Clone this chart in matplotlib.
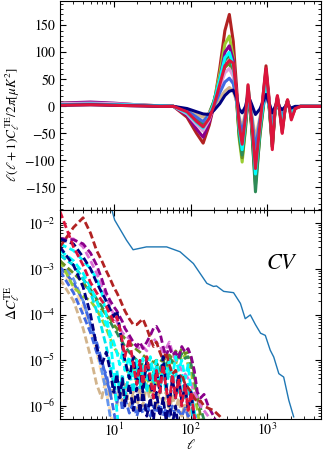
import numpy as np
import matplotlib
matplotlib.use("Agg")
import matplotlib.pyplot as plt
from matplotlib.ticker import AutoMinorLocator, LogLocator, NullFormatter

plt.rcParams["font.family"] = "STIXGeneral"
plt.rcParams["mathtext.fontset"] = "stix"

# ---- top panel: l(l+1)C_l^TE/2pi for the different models ----
te_ell = [2, 5, 10, 20, 40, 60, 90, 120, 146, 175, 200, 240, 280, 320, 360, 400, 430,
          470, 520, 560, 620, 700, 800, 960, 1060, 1160, 1250, 1350, 1450, 1560, 1700,
          1830, 1950, 2050, 2300, 2700, 5000]

te_firebrick = [4, 5, 4, 2, 1, 0, -20, -50, -68, -35, 0, 70, 140, 170, 120, 30, -40, -80, -30, 25,
                -30, -120, -40, 75, 10, -75, -15, 18, -10, -48, -5, 12, -5, -22, -4, 0, 0]
te_yellowgreen = [6, 7, 5, 3, 1, 0, -12, -32, -45, -22, 5, 60, 115, 130, 90, 10, -60, -103, -40, 38,
                  -20, -140, -50, 50, 0, -70, -10, 15, -8, -40, -4, 10, -4, -18, -3, 0, 0]
te_purple = [6, 8, 6, 3, 1, 0, -16, -42, -57, -30, 0, 50, 100, 112, 85, 20, -45, -85, -30, 30,
             -25, -135, -40, 65, 5, -65, -10, 15, -8, -40, -4, 10, -4, -18, -3, 0, 0]
te_olive = [4, 5, 4, 2, 1, 0, -9, -22, -30, -12, 8, 45, 72, 80, 60, 5, -55, -95, -40, 30,
            -35, -145, -55, 40, -5, -70, -12, 12, -8, -38, -4, 8, -3, -15, -2, 0, 0]
te_seagreen = [4, 5, 4, 2, 1, 0, -10, -26, -35, -15, 8, 50, 85, 95, 70, 10, -50, -90, -35, 30,
               -30, -158, -50, 40, -5, -75, -12, 12, -8, -40, -4, 8, -3, -15, -2, 0, 0]
te_plum = [5, 6, 5, 3, 1, 0, -14, -34, -45, -25, 0, 35, 62, 70, 55, 10, -30, -60, -20, 30,
           -20, -100, -35, 55, 5, -50, -8, 12, -6, -30, -3, 8, -3, -12, -2, 0, 0]
te_tan = [3, 4, 3, 2, 1, 0, -6, -15, -20, -12, 0, 15, 28, 35, 28, 8, -20, -40, -10, 25,
          -10, -60, -20, 30, 0, -30, -5, 8, -4, -15, -2, 5, -2, -8, -1, 0, 0]
te_royalblue = [3, 4, 3, 2, 1, 0, -8, -20, -28, -15, 0, 25, 45, 52, 42, 8, -25, -50, -15, 20,
                -15, -80, -25, 25, 0, -40, -6, 10, -5, -20, -2, 5, -2, -10, -1, 0, 0]
te_cyan = [3, 4, 3, 2, 1, 0, -12, -30, -40, -20, 5, 50, 90, 100, 75, 15, -40, -80, -25, 35,
           -15, -125, -40, 45, 0, -60, -10, 12, -6, -35, -3, 8, -3, -15, -2, 0, 0]
te_navy = [2, 3, 2, 1, 0, 0, -4, -10, -14, -15, -8, 5, 20, 28, 30, 15, -5, -12, 0, 20,
           5, -15, -5, 22, 5, -12, -2, 8, -2, -6, -1, 4, -1, -3, 0, 0, 0]
te_crimson = [2, 3, 2, 1, 0, 0, -10, -28, -38, -22, 0, 40, 75, 85, 80, 20, -35, -70, -20, 40,
              -20, -115, -35, 70, 5, -80, -10, 20, -10, -50, -5, 12, -5, -25, -4, 0, 0]

# ---- bottom panel: Delta C_l^TE per model (each list runs along dc_ell until it leaves the axes) ----
dc_ell = [2, 3, 4, 5, 6, 7, 8, 9, 10, 11, 12, 13, 14, 16, 18, 20, 22, 24, 27, 30, 33, 36, 40,
          44, 48, 53, 58, 64, 70, 77, 85, 93, 102, 112, 123, 135, 150, 170, 200, 240, 290]

dc_tan = [6e-4, 2e-4, 5e-5, 1.2e-5, 3e-6, 1.5e-6, 4e-6, 1.5e-6, 3e-6, 1e-6, 2.5e-6, 1.2e-6, 3e-6,
          1e-6, 2e-6, 8e-7, 2.5e-6, 1e-6, 3e-6, 1.2e-6, 2e-6, 8e-7, 2.5e-6, 1e-6, 2e-6, 7e-7,
          1.8e-6, 8e-7, 1.5e-6, 6e-7, 1.2e-6, 5e-7, 1e-6, 4e-7, 2e-7]
dc_navajo = [1e-3, 4e-4, 1.5e-4, 5e-5, 1.5e-5, 5e-6, 2e-6, 8e-7, 3e-7]
dc_cornflower = [1.5e-3, 6e-4, 2e-4, 6e-5, 2e-5, 6e-6, 2e-6, 6e-7, 2e-7]
dc_royalblue = [1.1e-3, 5e-4, 2e-4, 6e-5, 2.5e-5, 1e-5, 4e-6, 2e-6, 8e-7, 3e-7]
dc_royalblue2 = [9e-4, 3e-4, 1e-4, 4e-5, 1.5e-5, 8e-6, 5e-6, 2e-6, 3e-6, 1.2e-6, 2e-6, 8e-7,
                 1.5e-6, 7e-7, 1.2e-6, 6e-7, 1e-6, 7e-7, 1.2e-6, 6e-7, 1e-6, 7e-7, 1.1e-6, 6e-7,
                 9e-7, 6e-7, 1e-6, 6e-7, 8e-7, 6e-7, 9e-7, 6e-7, 7e-7, 6e-7, 6e-7, 4e-7, 2e-7]
dc_yellowgreen = [1.5e-3, 4e-4, 2.5e-4, 2e-4, 1.3e-4, 8e-5, 5e-5, 3e-5, 2e-5, 1.5e-5, 1.2e-5,
                  1.1e-5, 1e-5, 4e-6, 8e-6, 3e-6, 6e-6, 2.5e-6, 5e-6, 2e-6, 6e-6, 3e-6, 7e-6,
                  4e-6, 8e-6, 5e-6, 1e-5, 8e-6, 1.4e-5, 1e-5, 1.3e-5, 8e-6, 6e-6, 2e-6, 8e-7, 3e-7]
dc_seagreen = [2e-3, 1.2e-3, 6e-4, 3.5e-4, 2.2e-4, 1.5e-4, 1e-4, 7e-5, 5e-5, 4e-5, 3e-5, 2.5e-5,
               2e-5, 1.5e-5, 1.2e-5, 1e-5, 7e-6, 9e-6, 6e-6, 8e-6, 5e-6, 9e-6, 6e-6, 1e-5, 7e-6,
               1.2e-5, 9e-6, 1.3e-5, 1e-5, 1.4e-5, 1.1e-5, 1.2e-5, 8e-6, 4e-6, 1.5e-6, 9e-7,
               5e-7, 2e-7]
dc_olive = [1.5e-3, 8e-4, 5e-4, 3e-4, 2e-4, 1.3e-4, 1e-4, 8e-5, 6e-5, 5e-5, 4e-5, 3.5e-5, 3e-5,
            2.5e-5, 2e-5, 1.7e-5, 1.5e-5, 1.3e-5, 1.1e-5, 1e-5, 9e-6, 1e-5, 9e-6, 1.1e-5, 1e-5,
            1.3e-5, 1.1e-5, 1.6e-5, 1.3e-5, 1.8e-5, 1.4e-5, 1.5e-5, 1.1e-5, 5e-6, 1.5e-6, 6e-7,
            3e-7]
dc_plum = [4.5e-3, 4.5e-3, 3e-3, 1.5e-3, 8e-4, 4e-4, 2.5e-4, 1.5e-4, 1e-4, 7e-5, 5e-5, 4e-5,
           3.5e-5, 3e-5, 2.5e-5, 2e-5, 1.8e-5, 2e-5, 1.6e-5, 2.5e-5, 3e-5, 2.5e-5, 2e-5, 1.5e-5,
           1.8e-5, 2.5e-5, 1.5e-5, 1e-5, 8e-6, 6e-6, 5e-6, 4e-6, 3e-6, 2e-6, 1.5e-6, 1e-6, 8e-7,
           6e-7, 4e-7, 2e-7]
dc_purple = [4.5e-3, 4.3e-3, 3.5e-3, 2.2e-3, 1.2e-3, 6e-4, 3e-4, 2e-4, 1.5e-4, 1.2e-4, 9e-5, 7e-5,
             5e-5, 3.5e-5, 2.5e-5, 2e-5, 2.5e-5, 1.8e-5, 2.5e-5, 3.5e-5, 5e-5, 5.5e-5, 4e-5, 2e-5,
             1.2e-5, 2e-5, 1.3e-5, 1.5e-5, 1.1e-5, 2e-5, 1.5e-5, 1.8e-5, 1.2e-5, 6e-6, 2e-6,
             1.5e-6, 1.8e-6, 1e-6, 6e-7, 3e-7]
dc_cyan2 = [2.5e-3, 1.5e-3, 8e-4, 4e-4, 2e-4, 1e-4, 6e-5, 4e-5, 2.5e-5, 1.5e-5, 8e-6, 1.5e-5, 6e-6,
            1.2e-5, 4e-6, 1e-5, 3e-6, 1.1e-5, 4e-6, 1.2e-5, 5e-6, 1e-5, 3e-6, 1.2e-5, 5e-6, 1e-5,
            4e-6, 1.2e-5, 6e-6, 1e-5, 4e-6, 8e-6, 2e-6, 8e-7, 3e-7]
dc_cyan3 = [2e-3, 1.2e-3, 6e-4, 3e-4, 1.2e-4, 5e-5, 2e-5, 8e-6, 3e-6, 6e-6, 2e-6, 5e-6, 1.5e-6,
            6e-6, 2e-6, 7e-6, 2.5e-6, 6e-6, 2e-6, 7e-6, 3e-6, 8e-6, 2.5e-6, 6e-6, 2e-6, 7e-6, 3e-6,
            6e-6, 2e-6, 5e-6, 1.5e-6, 3e-6, 1e-6, 4e-7]
dc_cyan1 = [3.5e-3, 2.5e-3, 1.5e-3, 1e-3, 6e-4, 3e-4, 1e-4, 3e-5, 6e-6, 8e-7, 2e-7]
dc_firebrick = [3e-3, 8e-3, 1.3e-2, 6e-3, 2.5e-3, 1.5e-3, 9e-4, 6e-4, 4e-4, 3e-4, 2.2e-4, 1.6e-4,
                1.2e-4, 8e-5, 6e-5, 6e-5, 7e-5, 8e-5, 5e-5, 3e-5, 2e-5, 2.5e-5, 1.5e-5, 1e-5,
                1.5e-5, 8e-6, 5e-6, 6e-6, 4e-6, 5e-6, 3e-6, 2.5e-6, 2e-6, 1.5e-6, 1.2e-6, 1.3e-6,
                1e-6, 9e-7, 8e-7, 6e-7, 4e-7]
dc_navy2 = [3e-3, 1.2e-3, 4e-4, 1e-4, 2e-5, 8e-6, 1.5e-5, 6e-6, 2e-6, 5e-6, 1.5e-6, 4e-6, 1e-6,
            3e-6, 8e-7, 2.5e-6, 7e-7, 2e-6, 6e-7, 1.5e-6, 5e-7, 2e-6, 6e-7, 1.5e-6, 5e-7, 1.2e-6,
            4e-7, 1e-6, 3e-7]
dc_navy = [4.5e-3, 3.5e-3, 1.8e-3, 1e-3, 5e-4, 3e-4, 2e-4, 1.3e-4, 9e-5, 1.2e-4, 5e-5, 2e-5, 1e-5,
           4e-6, 1.2e-5, 3e-6, 8e-6, 2e-6, 1e-5, 3e-6, 1.5e-6, 6e-6, 2e-6, 1.2e-5, 3e-6, 1e-6,
           4e-6, 1.5e-6, 5e-6, 1.2e-6, 3e-6, 8e-7, 2e-6, 5e-7, 2e-7]
dc_crimson = [1.8e-2, 3e-3, 1.2e-3, 5e-4, 3e-4, 2e-4, 1.5e-4, 1e-4, 7e-5, 9e-5, 5e-5, 2.5e-5,
              1.2e-5, 3e-5, 8e-6, 3e-6, 1e-5, 3e-6, 1.2e-5, 4e-6, 1.5e-6, 6e-6, 2e-6, 8e-6,
              2.5e-6, 1e-6, 5e-6, 1.5e-6, 4e-6, 1e-6, 3e-6, 8e-7, 2e-6, 6e-7, 3e-7]

# cosmic variance
cv_ell = [9.5, 10.3, 14.7, 17.9, 26.7, 48.9, 73, 109, 163, 199, 218, 270, 363, 446, 515, 600,
          700, 816, 940, 1090, 1210, 1410, 1630, 1900, 2200]
cv_val = [1.9e-2, 1.16e-2, 4.2e-3, 2.6e-3, 3.0e-3, 3.0e-3, 2.35e-3, 1.3e-3, 4.8e-4, 4.1e-4, 4.2e-4,
          3.2e-4, 3.0e-4, 1.75e-4, 8.1e-5, 9.8e-5, 6e-5, 3.9e-5, 3.5e-5, 1.66e-5, 1.18e-5, 5.1e-6,
          4.3e-6, 1.34e-6, 5.8e-7]

top_series = [
    (te_firebrick, "#b22222"), (te_yellowgreen, "#9acd32"), (te_purple, "#8b008b"),
    (te_olive, "#6b8e23"), (te_seagreen, "#2e8b57"), (te_plum, "#dda0dd"),
    (te_tan, "#d2b48c"), (te_royalblue, "#4169e1"), (te_cyan, "#00ffff"),
    (te_navy, "#000080"), (te_crimson, "#dc143c"),
]
bottom_series = [
    (dc_tan, "#d2b48c"), (dc_navajo, "#ffdead"), (dc_cornflower, "#6495ed"),
    (dc_royalblue, "#4169e1"), (dc_royalblue2, "#4169e1"), (dc_yellowgreen, "#9acd32"),
    (dc_seagreen, "#2e8b57"), (dc_olive, "#6b8e23"), (dc_plum, "#da70d6"),
    (dc_purple, "#8b008b"), (dc_cyan2, "#00ffff"), (dc_cyan3, "#00e5ee"),
    (dc_cyan1, "#00ffff"), (dc_firebrick, "#b22222"), (dc_navy2, "#000080"),
    (dc_navy, "#000080"), (dc_crimson, "#dc143c"),
]

fig = plt.figure(figsize=(3.24, 4.54), dpi=100)
ax1 = fig.add_axes([0.185, 0.537, 0.806, 0.461])
ax2 = fig.add_axes([0.185, 0.077, 0.806, 0.460], sharex=ax1)

for vals, c in top_series:
    ax1.plot(te_ell, vals, color=c, lw=2.2)

for vals, c in bottom_series:
    ax2.plot(dc_ell[:len(vals)], vals, color=c, lw=2.0, ls=(0, (2.6, 1.2)))
ax2.plot(cv_ell, cv_val, color="#1f77b4", lw=1.0)

ax1.set_xscale("log")
ax1.set_xlim(2, 5000)
ax1.set_ylim(-192, 195)
ax1.set_yticks([-150, -100, -50, 0, 50, 100, 150])
ax1.yaxis.set_minor_locator(AutoMinorLocator(5))
ax1.set_ylabel(r"$\ell(\ell+1)C_\ell^{\rm TE}/2\pi[\mu K^2]$", fontsize=9.5)
ax1.yaxis.set_label_coords(-0.145, 0.41)
ax1.tick_params(labelbottom=False)

ax2.set_yscale("log")
ax2.set_ylim(5.2e-7, 1.9e-2)
ax2.yaxis.set_major_locator(LogLocator(base=10, numticks=10))
ax2.yaxis.set_minor_locator(LogLocator(base=10, subs=np.arange(2, 10), numticks=10))
ax2.yaxis.set_minor_formatter(NullFormatter())
ax2.set_ylabel(r"$\Delta C_\ell^{\rm TE}$", fontsize=10)
ax2.yaxis.set_label_coords(-0.145, 0.555)
ax2.set_xlabel(r"$\ell$", fontsize=10, labelpad=-1)
ax2.text(0.849, 0.744, r"$CV$", transform=ax2.transAxes, fontsize=16,
         ha="center", va="center")

for ax in (ax1, ax2):
    ax.tick_params(which="both", direction="in", top=True, right=True, labelsize=10)
    ax.tick_params(which="major", length=4, width=0.8)
    ax.tick_params(which="minor", length=2, width=0.6)
ax2.tick_params(axis="x", pad=2)

fig.savefig("out.png", dpi=100)
